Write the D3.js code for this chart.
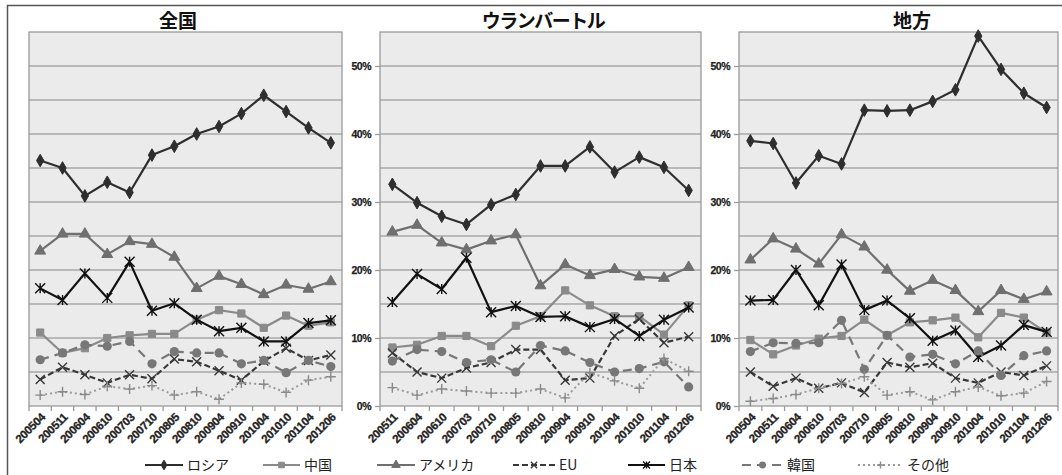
<!DOCTYPE html>
<html>
<head>
<meta charset="utf-8">
<script src="https://cdn.jsdelivr.net/npm/d3@7"></script>
<style>
  html, body { margin: 0; padding: 0; background: #fff; }
  svg { display: block; }
  text { font-family: "Liberation Sans", Arial, sans-serif; }
  .jp { font-family: "Noto Sans CJK JP", sans-serif; }
</style>
</head>
<body>
<svg id="chart" width="1062" height="475"></svg>
<script>
// Period labels
const periodsFull = ["200504","200511","200604","200610","200703","200710","200805","200810","200904","200910","201004","201010","201104","201206"];
const periodsUB = periodsFull.slice(1);

// Panel titles
const panelTitles = ["全国", "ウランバートル", "地方"];

// Series names (legend order)
const seriesNames = ["ロシア", "中国", "アメリカ", "EU", "日本", "韓国", "その他"];

// 全国 (%)
const zenkokuRussia  = [36.1, 35.0, 30.9, 32.9, 31.4, 36.9, 38.2, 40.0, 41.1, 43.0, 45.7, 43.3, 40.9, 38.7];
const zenkokuChina   = [10.8, 7.8, 8.5, 10.0, 10.4, 10.6, 10.6, 12.7, 14.1, 13.6, 11.5, 13.3, 11.8, 12.3];
const zenkokuUSA     = [22.8, 25.3, 25.3, 22.3, 24.2, 23.8, 21.9, 17.3, 19.1, 17.9, 16.4, 17.8, 17.2, 18.3];
const zenkokuEU      = [3.9, 5.7, 4.6, 3.4, 4.6, 4.0, 6.9, 6.5, 5.2, 3.8, 6.6, 8.5, 6.7, 7.5];
const zenkokuJapan   = [17.3, 15.6, 19.5, 15.9, 21.2, 14.0, 15.1, 12.7, 11.0, 11.5, 9.5, 9.5, 12.2, 12.6];
const zenkokuKorea   = [6.8, 7.8, 9.0, 8.8, 9.5, 6.2, 8.0, 7.8, 7.8, 6.2, 6.7, 4.9, 6.7, 5.8];
const zenkokuOther   = [1.6, 2.1, 1.7, 2.9, 2.5, 3.0, 1.6, 2.1, 1.0, 3.4, 3.2, 2.0, 3.8, 4.3];

// ウランバートル (%)
const ubRussia  = [32.6, 29.9, 27.9, 26.7, 29.6, 31.1, 35.3, 35.3, 38.1, 34.4, 36.6, 35.1, 31.7];
const ubChina   = [8.6, 9.0, 10.3, 10.3, 8.8, 11.8, 13.2, 17.0, 14.8, 13.2, 13.2, 10.5, 14.8];
const ubUSA     = [25.6, 26.6, 24.0, 23.0, 24.3, 25.2, 17.7, 20.8, 19.2, 20.1, 19.0, 18.8, 20.4];
const ubEU      = [7.8, 5.0, 4.1, 5.6, 6.4, 8.3, 8.3, 3.8, 4.1, 10.3, 12.8, 9.3, 10.2];
const ubJapan   = [15.3, 19.4, 17.2, 21.8, 13.8, 14.7, 13.1, 13.2, 11.6, 12.8, 10.3, 12.7, 14.5];
const ubKorea   = [6.6, 8.3, 8.0, 6.4, 6.8, 5.0, 8.9, 8.1, 6.4, 5.0, 5.5, 6.5, 2.8];
const ubOther   = [2.7, 1.6, 2.5, 2.2, 1.9, 1.9, 2.5, 1.2, 4.9, 3.7, 2.6, 7.0, 5.1];

// 地方 (%)
const chihoRussia  = [39.0, 38.6, 32.8, 36.8, 35.6, 43.5, 43.4, 43.5, 44.8, 46.5, 54.4, 49.5, 46.0, 43.9];
const chihoChina   = [9.7, 7.6, 8.9, 9.9, 10.3, 12.7, 10.4, 12.3, 12.6, 13.0, 10.1, 13.7, 13.0, 10.8];
const chihoUSA     = [21.5, 24.6, 23.1, 20.9, 25.2, 23.4, 20.0, 16.9, 18.5, 17.0, 13.9, 17.0, 15.7, 16.8];
const chihoEU      = [5.0, 2.9, 4.1, 2.6, 3.4, 2.0, 6.4, 5.7, 6.3, 4.1, 3.4, 5.0, 4.5, 5.9];
const chihoJapan   = [15.5, 15.6, 20.0, 14.8, 20.8, 14.1, 15.5, 12.9, 9.6, 11.1, 7.2, 8.9, 11.9, 10.9];
const chihoKorea   = [8.0, 9.3, 9.2, 9.3, 12.6, 5.4, 10.4, 7.2, 7.6, 6.2, 8.1, 4.5, 7.4, 8.1];
const chihoOther   = [0.7, 1.1, 1.7, 2.6, 3.3, 4.3, 1.6, 2.1, 0.9, 2.1, 2.8, 1.5, 1.9, 3.6];

// Y axis ticks (labels every 10%, grid every 5%)
const yLabelTicks = [0, 10, 20, 30, 40, 50];
const yGridTicks = [5, 10, 15, 20, 25, 30, 35, 40, 45, 50];

// ---- assemble panels ----
const panels = [
  { title: panelTitles[0], periods: periodsFull,
    series: [zenkokuRussia, zenkokuChina, zenkokuUSA, zenkokuEU, zenkokuJapan, zenkokuKorea, zenkokuOther],
    x0: 29, x1: 342, titleX: 178, titleSpacing: 0, yLabels: false },
  { title: panelTitles[1], periods: periodsUB,
    series: [ubRussia, ubChina, ubUSA, ubEU, ubJapan, ubKorea, ubOther],
    x0: 380, x1: 701, titleX: 543, titleSpacing: -1.5, yLabels: true },
  { title: panelTitles[2], periods: periodsFull,
    series: [chihoRussia, chihoChina, chihoUSA, chihoEU, chihoJapan, chihoKorea, chihoOther],
    x0: 739, x1: 1058, titleX: 912, titleSpacing: 0, yLabels: true }
];

// Per-series styling
const styles = [
  { color: "#2e2e2e", width: 2.2, dash: null,   marker: "diamond",  mcolor: "#2e2e2e", msize: 46 },
  { color: "#8a8a8a", width: 2.2, dash: null,   marker: "square",   mcolor: "#8a8a8a", msize: 52 },
  { color: "#6f6f6f", width: 2.2, dash: null,   marker: "triangle", mcolor: "#6f6f6f", msize: 52 },
  { color: "#383838", width: 2.2, dash: "6,3",  marker: "x",        mcolor: "#383838", msize: 9 },
  { color: "#111111", width: 2.2, dash: null,   marker: "star",     mcolor: "#111111", msize: 10 },
  { color: "#777777", width: 2.2, dash: "9,6",  marker: "circle",   mcolor: "#777777", msize: 4.6 },
  { color: "#9a9a9a", width: 2.0, dash: "2,3",  marker: "plus",     mcolor: "#8a8a8a", msize: 10 }
];

const svg = d3.select("#chart");
const plotTop = 32, plotBottom = 406;
const y = d3.scaleLinear().domain([0, 55]).range([plotBottom, plotTop]);

// outer frame
svg.append("rect")
  .attr("x", 7.5).attr("y", 5.5).attr("width", 1070).attr("height", 480)
  .attr("fill", "#fff").attr("stroke", "#555").attr("stroke-width", 1.5);

function drawMarker(g, type, cx, cy, st) {
  if (type === "diamond" || type === "square" || type === "triangle") {
    const sym = type === "diamond" ? d3.symbolDiamond : (type === "square" ? d3.symbolSquare : d3.symbolTriangle);
    g.append("path")
      .attr("d", d3.symbol().type(sym).size(st.msize)())
      .attr("transform", `translate(${cx},${cy})`)
      .attr("fill", st.mcolor).attr("stroke", st.mcolor).attr("stroke-width", 1);
  } else if (type === "circle") {
    g.append("circle").attr("cx", cx).attr("cy", cy).attr("r", st.msize).attr("fill", st.mcolor);
  } else {
    const h = st.msize / 2;
    let d = "";
    if (type === "x" || type === "star") d += `M${cx-h},${cy-h}L${cx+h},${cy+h}M${cx-h},${cy+h}L${cx+h},${cy-h}`;
    if (type === "plus") d += `M${cx-h},${cy}L${cx+h},${cy}M${cx},${cy-h}L${cx},${cy+h}`;
    if (type === "star") d += `M${cx},${cy-h}L${cx},${cy+h}`;
    g.append("path").attr("d", d).attr("stroke", st.mcolor).attr("stroke-width", 1.4).attr("fill", "none");
  }
}

panels.forEach(p => {
  const g = svg.append("g");
  const x = d3.scalePoint().domain(p.periods).range([p.x0, p.x1]).padding(0.5);
  const step = x.step();

  // title
  g.append("text").attr("class", "jp")
    .attr("x", p.titleX).attr("y", 28).attr("text-anchor", "middle")
    .attr("font-size", 19).attr("font-weight", "bold").attr("fill", "#111")
    .attr("letter-spacing", p.titleSpacing)
    .text(p.title);

  // plot background
  g.append("rect")
    .attr("x", p.x0).attr("y", plotTop).attr("width", p.x1 - p.x0).attr("height", plotBottom - plotTop)
    .attr("fill", "#ebebeb");

  // gridlines
  g.selectAll(".grid").data(yGridTicks).join("line")
    .attr("x1", p.x0).attr("x2", p.x1)
    .attr("y1", d => y(d)).attr("y2", d => y(d))
    .attr("stroke", "#a9a9a9").attr("stroke-width", 1.3);

  // plot border
  g.append("rect")
    .attr("x", p.x0).attr("y", plotTop).attr("width", p.x1 - p.x0).attr("height", plotBottom - plotTop)
    .attr("fill", "none").attr("stroke", "#9a9a9a").attr("stroke-width", 1.3);

  // y axis
  if (p.yLabels) {
    const ya = d3.axisLeft(y).tickValues(yLabelTicks).tickSize(5).tickPadding(4)
      .tickFormat(d => d + "%");
    const ag = g.append("g").attr("transform", `translate(${p.x0},0)`).call(ya);
    ag.select(".domain").remove();
    ag.selectAll(".tick line").attr("stroke", "#9a9a9a").attr("stroke-width", 1.3);
    ag.selectAll(".tick text").attr("font-size", 10.5).attr("font-weight", "bold")
      .attr("letter-spacing", "-0.5").attr("fill", "#222")
      .attr("stroke", "#222").attr("stroke-width", 0.25)
      .attr("font-family", "'Liberation Sans', Arial, sans-serif");
  }

  // x axis: ticks at band boundaries, labels at category centres
  const edges = p.periods.map(d => x(d) - step / 2).concat([x(p.periods[p.periods.length - 1]) + step / 2]);
  g.selectAll(".xt").data(edges).join("line")
    .attr("x1", d => d).attr("x2", d => d)
    .attr("y1", plotBottom).attr("y2", plotBottom + 5)
    .attr("stroke", "#9a9a9a").attr("stroke-width", 1.3);
  g.selectAll(".xl").data(p.periods).join("text")
    .attr("transform", d => `translate(${x(d) + 3},${plotBottom + 9}) rotate(-45)`)
    .attr("text-anchor", "end").attr("dy", "0.35em")
    .attr("font-size", 11.5).attr("font-weight", "bold").attr("letter-spacing", "-0.3")
    .attr("fill", "#222").attr("stroke", "#222").attr("stroke-width", 0.3)
    .text(d => d);

  // series
  const line = d3.line().x((d, i) => x(p.periods[i])).y(d => y(d));
  p.series.forEach((vals, si) => {
    const st = styles[si];
    const sg = g.append("g");
    sg.append("path").datum(vals)
      .attr("d", line)
      .attr("fill", "none").attr("stroke", st.color).attr("stroke-width", st.width)
      .attr("stroke-dasharray", st.dash).attr("stroke-linejoin", "round");
    vals.forEach((v, i) => drawMarker(sg, st.marker, x(p.periods[i]), y(v), st));
  });
});

// legend
const legendX = [145, 263, 377, 513, 628, 742, 858];
const legendLen = [38, 37, 38, 42, 37, 41, 45];
const legendY = 465;
const lg = svg.append("g");
seriesNames.forEach((name, i) => {
  const st = styles[i];
  const x0 = legendX[i], x1 = legendX[i] + legendLen[i];
  lg.append("line").attr("x1", x0).attr("x2", x1).attr("y1", legendY).attr("y2", legendY)
    .attr("stroke", st.color).attr("stroke-width", st.width).attr("stroke-dasharray", st.dash);
  const mst = Object.assign({}, st);
  if (st.marker === "circle") mst.msize = 3.4;
  else if (["diamond", "square", "triangle"].includes(st.marker)) mst.msize = st.msize * 0.6;
  else mst.msize = st.msize * 0.7;
  drawMarker(lg, st.marker, (x0 + x1) / 2, legendY, mst);
  lg.append("text").attr("class", "jp")
    .attr("x", x1 + 4).attr("y", legendY).attr("dy", "0.36em")
    .attr("font-size", 14).attr("fill", "#222")
    .text(name);
});
</script>
</body>
</html>
